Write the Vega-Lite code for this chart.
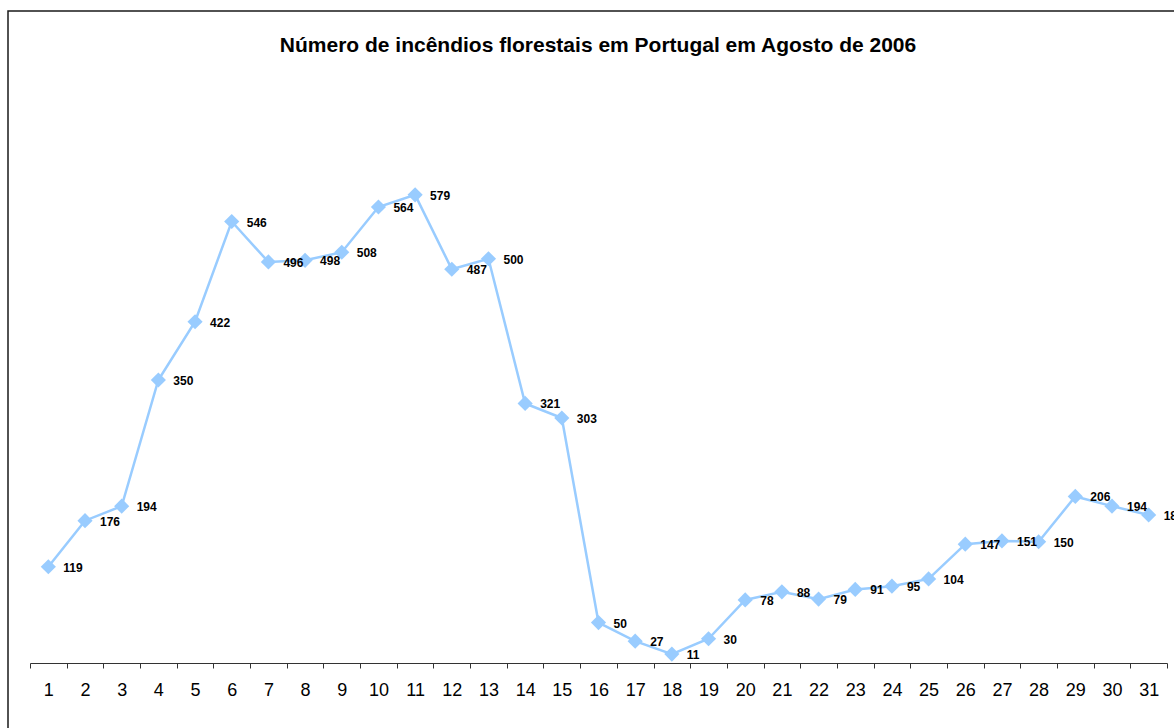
{
  "$schema": "https://vega.github.io/schema/vega-lite/v6.json",
  "autosize": {"type": "none"},
  "padding": {"left": 8, "top": 11, "right": 0, "bottom": 0},
  "width": 1180,
  "height": 740,
  "background": "white",
  "config": {
    "view": {"stroke": "#1a1a1a", "strokeWidth": 1.5},
    "font": "Liberation Sans"
  },
  "title": {
    "text": "Número de incêndios florestais em Portugal em Agosto de 2006",
    "font": "Liberation Sans",
    "fontSize": 21,
    "fontWeight": "bold",
    "color": "#000000",
    "anchor": "middle",
    "frame": "group",
    "offset": -45
  },
  "data": {
    "values": [
      {"dia": 1, "n": 119}, {"dia": 2, "n": 176}, {"dia": 3, "n": 194}, {"dia": 4, "n": 350},
      {"dia": 5, "n": 422}, {"dia": 6, "n": 546}, {"dia": 7, "n": 496}, {"dia": 8, "n": 498},
      {"dia": 9, "n": 508}, {"dia": 10, "n": 564}, {"dia": 11, "n": 579}, {"dia": 12, "n": 487},
      {"dia": 13, "n": 500}, {"dia": 14, "n": 321}, {"dia": 15, "n": 303}, {"dia": 16, "n": 50},
      {"dia": 17, "n": 27}, {"dia": 18, "n": 11}, {"dia": 19, "n": 30}, {"dia": 20, "n": 78},
      {"dia": 21, "n": 88}, {"dia": 22, "n": 79}, {"dia": 23, "n": 91}, {"dia": 24, "n": 95},
      {"dia": 25, "n": 104}, {"dia": 26, "n": 147}, {"dia": 27, "n": 151}, {"dia": 28, "n": 150},
      {"dia": 29, "n": 206}, {"dia": 30, "n": 194}, {"dia": 31, "n": 183}
    ]
  },
  "encoding": {
    "x": {
      "field": "dia",
      "type": "ordinal",
      "scale": {"range": [22, 1159], "paddingInner": 0, "paddingOuter": 0},
      "axis": {
        "title": null,
        "labelAngle": 0,
        "labelFont": "Liberation Sans",
        "labelFontSize": 18,
        "labelColor": "#000000",
        "labelPadding": 13,
        "tickBand": "extent",
        "tickSize": 5,
        "tickColor": "#333333",
        "domainColor": "#333333",
        "domainWidth": 1,
        "tickWidth": 1,
        "offset": -88,
        "grid": false
      }
    },
    "y": {
      "field": "n",
      "type": "quantitative",
      "scale": {"domain": [0, 700], "range": [652, 86], "nice": false, "zero": true},
      "axis": null
    }
  },
  "layer": [
    {"mark": {"type": "line", "color": "#99CCFF", "strokeWidth": 2.5}},
    {"mark": {"type": "point", "shape": "diamond", "filled": true, "color": "#99CCFF", "size": 230, "opacity": 1}},
    {
      "mark": {"type": "text", "align": "left", "baseline": "middle", "dx": 15, "dy": 1, "fontSize": 12, "fontWeight": "bold", "font": "Liberation Sans", "color": "#000000"},
      "encoding": {"text": {"field": "n", "type": "quantitative"}}
    }
  ]
}
